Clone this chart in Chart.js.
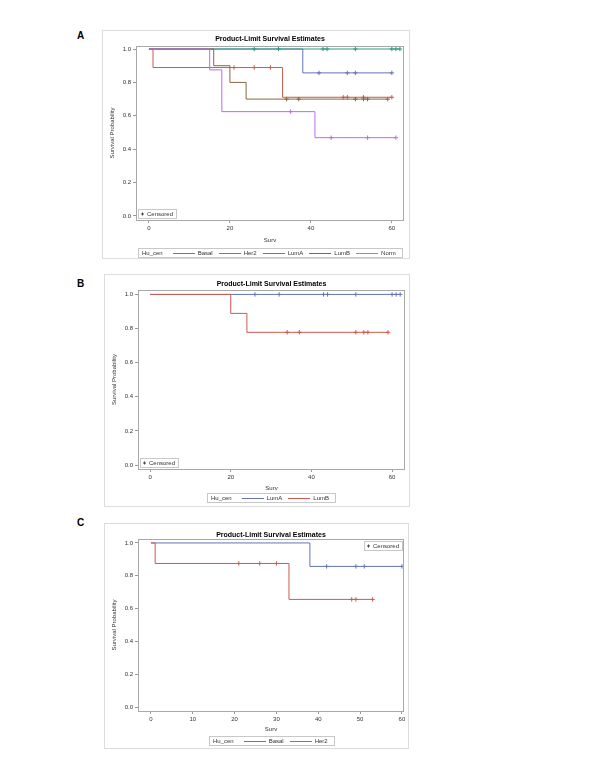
<!DOCTYPE html>
<html>
<head>
<meta charset="utf-8">
<script src="https://cdn.jsdelivr.net/npm/chart.js@4.4.1/dist/chart.umd.min.js"></script>
<style>
  body { margin: 0; background: #fff; }
  #page { position: relative; width: 600px; height: 777px; }
  canvas { position: absolute; }
  .letter { position: absolute; font: bold 10px "Liberation Sans", Arial, sans-serif; color: #000; }
</style>
</head>
<body>
<div id="page">
  <div class="letter" style="left:77px;top:30px">A</div>
  <div class="letter" style="left:77px;top:278px">B</div>
  <div class="letter" style="left:77px;top:517px">C</div>
</div>
<script>
// Panel A : all subtypes
const groupsA = ['Basal', 'Her2', 'LumA', 'LumB', 'Norm'];
const aBasalT = [0, 38, 60];
const aBasalS = [1, 0.857, 0.857];
const aBasalC = [42, 49, 51, 60];
const aHer2T = [0, 1, 33, 60];
const aHer2S = [1, 0.889, 0.711, 0.711];
const aHer2C = [21, 26, 30, 48, 49, 53, 60];
const aLumAT = [0, 62];
const aLumAS = [1, 1];
const aLumAC = [26, 32, 43, 44, 51, 60, 61, 62];
const aLumBT = [0, 16, 20, 24, 59];
const aLumBS = [1, 0.9, 0.8, 0.7, 0.7];
const aLumBC = [34, 37, 51, 53, 54, 59];
const aNormT = [0, 15, 18, 41, 61];
const aNormS = [1, 0.875, 0.625, 0.469, 0.469];
const aNormC = [35, 45, 54, 61];

// Panel B : LumA vs LumB
const groupsB = ['LumA', 'LumB'];
const bLumAT = [0, 62];
const bLumAS = [1, 1];
const bLumAC = [26, 32, 43, 44, 51, 60, 61, 62];
const bLumBT = [0, 20, 24, 59];
const bLumBS = [1, 0.889, 0.778, 0.778];
const bLumBC = [34, 37, 51, 53, 54, 59];

// Panel C : Basal vs Her2
const groupsC = ['Basal', 'Her2'];
const cBasalT = [0, 38, 60];
const cBasalS = [1, 0.857, 0.857];
const cBasalC = [42, 49, 51, 60];
const cHer2T = [0, 1, 33, 53];
const cHer2S = [1, 0.875, 0.656, 0.656];
const cHer2C = [21, 26, 30, 48, 49, 53];

const yTicks = [0, 0.2, 0.4, 0.6, 0.8, 1.0];
const xTicksAB = [0, 20, 40, 60];
const xTicksC = [0, 10, 20, 30, 40, 50, 60];

const titleText = 'Product-Limit Survival Estimates';
const groupVar = 'Hu_cen';

const colorsAll = ['#6474b8', '#cc5a50', '#2e9a7c', '#86683a', '#bb6cf0'];
const FONT = '"Liberation Sans", Arial, sans-serif';

// survival value at time t (step function)
function survAt(times, surv, t) {
    let s = surv[0];
    for (let i = 0; i < times.length; i++) {
        if (times[i] <= t) s = surv[i];
    }
    return s;
}

function buildDatasets(curves) {
    const ds = [];
    // last group drawn on top -> put it first
    for (let i = curves.length - 1; i >= 0; i--) {
        const c = curves[i];
        ds.push({
            label: c.name + ' censor',
            data: c.cens.map(t => ({ x: t, y: survAt(c.t, c.s, t) })),
            showLine: false,
            pointStyle: 'cross',
            pointRadius: 2.2,
            pointBorderWidth: 1,
            borderColor: c.color,
            backgroundColor: c.color
        });
        ds.push({
            label: c.name,
            data: c.t.map((t, k) => ({ x: t, y: c.s[k] })),
            stepped: 'before',
            borderColor: c.color,
            borderWidth: 1,
            pointRadius: 0,
            fill: false
        });
    }
    return ds;
}

const decor = {
    id: 'decor',
    beforeDraw(chart) {
        const ctx = chart.ctx;
        ctx.save();
        ctx.strokeStyle = '#dcdcdc';
        ctx.lineWidth = 1;
        ctx.strokeRect(0.5, 0.5, chart.width - 1, chart.height - 1);
        ctx.restore();
    },
    afterDraw(chart, args, o) {
        const ctx = chart.ctx;
        const ca = chart.chartArea;
        const cx = (ca.left + ca.right) / 2;
        ctx.save();
        // plot frame
        ctx.strokeStyle = '#a8a8a8';
        ctx.lineWidth = 1;
        ctx.strokeRect(Math.round(ca.left) + 0.5, Math.round(ca.top) + 0.5,
            Math.round(ca.right - ca.left) - 1, Math.round(ca.bottom - ca.top));

        ctx.textBaseline = 'middle';
        ctx.textAlign = 'center';
        // title
        ctx.fillStyle = '#000';
        ctx.font = 'bold 7px ' + FONT;
        ctx.fillText(titleText, cx, o.titleY);
        // axis titles
        ctx.fillStyle = '#333';
        ctx.font = '6px ' + FONT;
        ctx.fillText('Surv', cx, o.xTitleY);
        ctx.save();
        ctx.translate(o.yTitleX, (ca.top + ca.bottom) / 2);
        ctx.rotate(-Math.PI / 2);
        ctx.fillText('Survival Probability', 0, 0);
        ctx.restore();

        // group legend at bottom
        const lineLen = 22;
        let w = 4 + ctx.measureText(groupVar).width + 10;
        o.groups.forEach(g => { w += lineLen + 3 + ctx.measureText(g).width + 6; });
        let x = Math.round(cx - w / 2);
        const ly = Math.round(o.legendY);
        ctx.strokeStyle = '#c8c8c8';
        ctx.strokeRect(x + 0.5, ly - 4.5, Math.round(w), 9);
        ctx.textAlign = 'left';
        ctx.fillStyle = '#333';
        x += 4;
        ctx.fillText(groupVar, x, ly);
        x += ctx.measureText(groupVar).width + 10;
        o.groups.forEach((g, i) => {
            ctx.strokeStyle = colorsAll[i];
            ctx.lineWidth = 1;
            ctx.beginPath();
            ctx.moveTo(Math.round(x), ly + 0.5);
            ctx.lineTo(Math.round(x) + lineLen, ly + 0.5);
            ctx.stroke();
            x += lineLen + 3;
            ctx.fillStyle = '#333';
            ctx.fillText(g, x, ly);
            x += ctx.measureText(g).width + 6;
        });

        // censored inset
        const cw = ctx.measureText('Censored').width + 12;
        let bx, by;
        if (o.censorPos === 'topright') {
            bx = Math.round(ca.right - 2 - cw);
            by = Math.round(ca.top + 2);
        } else {
            bx = Math.round(ca.left + 2);
            by = Math.round(ca.bottom - 2 - 9);
        }
        ctx.strokeStyle = '#c8c8c8';
        ctx.strokeRect(bx + 0.5, by + 0.5, Math.round(cw), 9);
        ctx.strokeStyle = '#444';
        ctx.beginPath();
        ctx.moveTo(bx + 3, by + 5); ctx.lineTo(bx + 6, by + 5);
        ctx.moveTo(bx + 4.5, by + 3.5); ctx.lineTo(bx + 4.5, by + 6.5);
        ctx.stroke();
        ctx.fillStyle = '#333';
        ctx.fillText('Censored', bx + 9, by + 5);
        ctx.restore();
    }
};

function makePanel(p) {
    const canvas = document.createElement('canvas');
    canvas.style.left = p.left + 'px';
    canvas.style.top = p.top + 'px';
    canvas.style.width = p.width + 'px';
    canvas.style.height = p.height + 'px';
    canvas.width = p.width;
    canvas.height = p.height;
    document.getElementById('page').appendChild(canvas);

    new Chart(canvas, {
        type: 'line',
        data: { datasets: buildDatasets(p.curves) },
        options: {
            responsive: false,
            animation: false,
            layout: { padding: { left: 0, top: p.padTop, right: p.padRight, bottom: 0 } },
            plugins: {
                legend: { display: false },
                tooltip: { enabled: false },
                decor: {
                    titleY: p.titleY, xTitleY: p.xTitleY, yTitleX: p.yTitleX,
                    legendY: p.legendY, groups: p.groups, censorPos: p.censorPos
                }
            },
            scales: {
                x: {
                    type: 'linear',
                    min: p.xMin, max: p.xMax,
                    afterFit: s => { s.height = p.xAxisH; },
                    afterBuildTicks: s => { s.ticks = p.xTicks.map(v => ({ value: v })); },
                    grid: { drawOnChartArea: false, drawTicks: true, tickLength: 3, color: '#999' },
                    border: { display: false },
                    ticks: { padding: 2, color: '#333', font: { family: FONT, size: 6 }, maxRotation: 0 }
                },
                y: {
                    type: 'linear',
                    min: p.yMin, max: p.yMax,
                    afterFit: s => { s.width = p.yAxisW; },
                    afterBuildTicks: s => { s.ticks = yTicks.map(v => ({ value: v })); },
                    grid: { drawOnChartArea: false, drawTicks: true, tickLength: 3, color: '#999' },
                    border: { display: false },
                    ticks: { padding: 2, color: '#333', font: { family: FONT, size: 6 },
                        callback: v => v.toFixed(1) }
                }
            }
        },
        plugins: [decor]
    });
}

makePanel({
    left: 102, top: 30, width: 308, height: 229,
    padTop: 16, padRight: 6, yAxisW: 34, xAxisH: 39,
    xMin: -3.2, xMax: 63, yMin: -0.024, yMax: 1.018, xTicks: xTicksAB,
    titleY: 9, xTitleY: 210, yTitleX: 10, legendY: 222.5, censorPos: 'bottomleft',
    groups: groupsA,
    curves: [
        { name: 'Basal', t: aBasalT, s: aBasalS, cens: aBasalC, color: colorsAll[0] },
        { name: 'Her2', t: aHer2T, s: aHer2S, cens: aHer2C, color: colorsAll[1] },
        { name: 'LumA', t: aLumAT, s: aLumAS, cens: aLumAC, color: colorsAll[2] },
        { name: 'LumB', t: aLumBT, s: aLumBS, cens: aLumBC, color: colorsAll[3] },
        { name: 'Norm', t: aNormT, s: aNormS, cens: aNormC, color: colorsAll[4] }
    ]
});

makePanel({
    left: 104, top: 274, width: 306, height: 233,
    padTop: 16, padRight: 5, yAxisW: 34, xAxisH: 38,
    xMin: -3.0, xMax: 63.2, yMin: -0.023, yMax: 1.026, xTicks: xTicksAB,
    titleY: 10, xTitleY: 214, yTitleX: 10, legendY: 224, censorPos: 'bottomleft',
    groups: groupsB,
    curves: [
        { name: 'LumA', t: bLumAT, s: bLumAS, cens: bLumAC, color: colorsAll[0] },
        { name: 'LumB', t: bLumBT, s: bLumBS, cens: bLumBC, color: colorsAll[1] }
    ]
});

makePanel({
    left: 104, top: 523, width: 305, height: 226,
    padTop: 16, padRight: 5, yAxisW: 34, xAxisH: 38,
    xMin: -3.1, xMax: 60.5, yMin: -0.024, yMax: 1.024, xTicks: xTicksC,
    titleY: 12, xTitleY: 206, yTitleX: 10, legendY: 218, censorPos: 'topright',
    groups: groupsC,
    curves: [
        { name: 'Basal', t: cBasalT, s: cBasalS, cens: cBasalC, color: colorsAll[0] },
        { name: 'Her2', t: cHer2T, s: cHer2S, cens: cHer2C, color: colorsAll[1] }
    ]
});
</script>
</body>
</html>
